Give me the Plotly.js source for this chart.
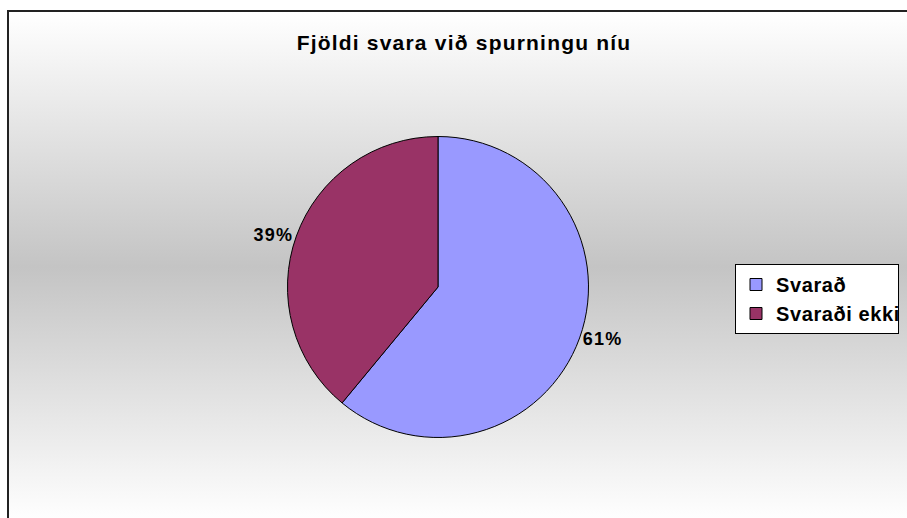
<!DOCTYPE html>
<html>
<head>
<meta charset="utf-8">
<script src="https://cdn.plot.ly/plotly-3.0.1.min.js"></script>
<style>
  html, body { margin: 0; padding: 0; background: #ffffff; width: 907px; height: 518px; overflow: hidden; }
  #bg {
    position: absolute; left: 7px; top: 10px; width: 920px; height: 510px;
    border: 2px solid #222222;
    background: linear-gradient(to bottom, #ffffff 0%, #c4c4c4 50%, #ffffff 100%);
  }
  #chart { position: absolute; left: 0; top: 0; width: 907px; height: 518px; }
  #chart text { font-weight: bold !important; }
  #chart .gtitle { letter-spacing: 1.2px; }
  #chart .slicetext { letter-spacing: 1.3px; }
  #chart .legendtext { letter-spacing: 0.6px; }
</style>
</head>
<body>
<div id="bg"></div>
<div id="chart"></div>
<script>
const categories = ["Svarað", "Svaraði ekki"];
const values = [61, 39];
const colors = ["#9999FF", "#993366"];
const titleText = "Fjöldi svara við spurningu níu";

const W = 907, H = 518;
const cx = 438, cy = 287, r = 150.5;
const FONT = "Liberation Sans, Arial, sans-serif";

const trace = {
  type: "pie",
  labels: categories,
  values: values,
  sort: false,
  direction: "clockwise",
  rotation: 0,
  marker: { colors: colors, line: { color: "#000000", width: 1 } },
  textinfo: "percent",
  textposition: "outside",
  texttemplate: "%{percent:.0%}",
  outsidetextfont: { family: FONT, size: 18, color: "#000000", weight: 700 },
  hoverinfo: "label+percent",
  domain: {
    x: [(cx - r) / W, (cx + r) / W],
    y: [(H - cy - r) / H, (H - cy + r) / H]
  }
};

const layout = {
  width: W,
  height: H,
  margin: { l: 0, r: 0, t: 0, b: 0 },
  paper_bgcolor: "rgba(0,0,0,0)",
  plot_bgcolor: "rgba(0,0,0,0)",
  title: {
    text: titleText,
    font: { family: FONT, size: 21, color: "#000000", weight: 700 },
    x: 464 / W, xanchor: "center", xref: "container",
    y: 1 - 43 / H, yanchor: "middle", yref: "container"
  },
  showlegend: true,
  legend: {
    x: 735 / W, xanchor: "left",
    y: 1 - 264 / H, yanchor: "top",
    bgcolor: "#ffffff",
    bordercolor: "#000000",
    borderwidth: 1,
    font: { family: FONT, size: 20, color: "#000000", weight: 700 },
    traceorder: "normal"
  }
};

Plotly.newPlot("chart", [trace], layout, { displayModeBar: false, staticPlot: true });
</script>
</body>
</html>
